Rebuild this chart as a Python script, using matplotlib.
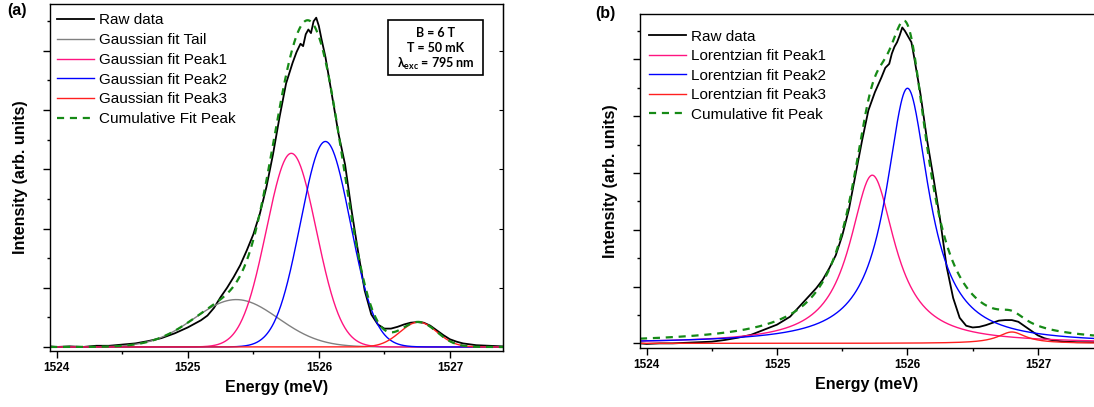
import numpy as np
import matplotlib.pyplot as plt
from matplotlib.ticker import MultipleLocator
from matplotlib.patches import Rectangle

plt.rcParams['font.family'] = ['Liberation Sans', 'DejaVu Sans']
plt.rcParams['mathtext.fontset'] = 'custom'
plt.rcParams['mathtext.bf'] = 'Lato:bold'
plt.rcParams['mathtext.rm'] = 'Lato'

### Raw spectrum (a) ###
raw_a_e = [1523.95, 1524.0, 1524.1, 1524.2, 1524.3, 1524.4, 1524.5, 1524.6, 1524.7, 1524.8,
           1524.9, 1525.0, 1525.05, 1525.1, 1525.15, 1525.2, 1525.25, 1525.3, 1525.35, 1525.4,
           1525.45, 1525.5, 1525.55, 1525.6, 1525.65, 1525.7, 1525.75, 1525.8, 1525.83, 1525.86,
           1525.88, 1525.9, 1525.92, 1525.94, 1525.96, 1525.98, 1526.0, 1526.02, 1526.05, 1526.1,
           1526.15, 1526.2, 1526.25, 1526.3, 1526.35, 1526.4, 1526.45, 1526.5, 1526.55, 1526.6,
           1526.65, 1526.7, 1526.75, 1526.8, 1526.85, 1526.9, 1526.95, 1527.0, 1527.05, 1527.1,
           1527.2, 1527.3, 1527.4]
raw_a_i = [0.01, 0.0, 0.01, 0.0, 0.02, 0.02, 0.04, 0.06, 0.10, 0.15,
           0.23, 0.33, 0.39, 0.45, 0.53, 0.66, 0.84, 1.00, 1.18, 1.38,
           1.63, 1.90, 2.25, 2.70, 3.25, 3.88, 4.45, 4.80, 4.98, 5.12,
           5.08, 5.28, 5.36, 5.30, 5.50, 5.56, 5.42, 5.20, 4.90, 4.25,
           3.60, 3.08, 2.30, 1.60, 0.95, 0.55, 0.38, 0.31, 0.31, 0.34,
           0.38, 0.41, 0.42, 0.41, 0.36, 0.28, 0.20, 0.13, 0.09, 0.06,
           0.03, 0.02, 0.01]

### Raw spectrum (b) ###
raw_b_e = [1523.95, 1524.0, 1524.1, 1524.2, 1524.3, 1524.4, 1524.5, 1524.6, 1524.7, 1524.8,
           1524.9, 1525.0, 1525.1, 1525.2, 1525.3, 1525.35, 1525.4, 1525.45, 1525.5, 1525.55,
           1525.6, 1525.65, 1525.7, 1525.75, 1525.8, 1525.83, 1525.86, 1525.88, 1525.9, 1525.92,
           1525.94, 1525.96, 1525.98, 1526.0, 1526.03, 1526.05, 1526.1, 1526.15, 1526.2, 1526.25,
           1526.3, 1526.35, 1526.4, 1526.45, 1526.5, 1526.55, 1526.6, 1526.65, 1526.7, 1526.75,
           1526.8, 1526.85, 1526.9, 1526.95, 1527.0, 1527.05, 1527.1, 1527.2, 1527.3, 1527.43]
raw_b_i = [0.0, -0.01, 0.0, 0.0, 0.01, 0.02, 0.03, 0.06, 0.10, 0.15,
           0.24, 0.33, 0.47, 0.72, 0.97, 1.12, 1.32, 1.55, 1.90, 2.35,
           2.95, 3.55, 4.10, 4.42, 4.68, 4.85, 4.92, 5.10, 5.22, 5.30,
           5.42, 5.56, 5.50, 5.42, 5.30, 5.05, 4.38, 3.58, 2.90, 2.18,
           1.35, 0.80, 0.45, 0.31, 0.28, 0.29, 0.32, 0.36, 0.40, 0.41,
           0.41, 0.38, 0.30, 0.22, 0.14, 0.09, 0.06, 0.03, 0.02, 0.02]

# Gaussian fit parameters (a): center, sigma, amplitude
gauss_names = ["Gaussian fit Tail", "Gaussian fit Peak1", "Gaussian fit Peak2", "Gaussian fit Peak3"]
gauss_center = [1525.37, 1525.79, 1526.05, 1526.76]
gauss_sigma = [0.32, 0.19, 0.19, 0.14]
gauss_amp = [0.80, 3.27, 3.47, 0.42]
gauss_color = ["#808080", "#ff1480", "#0000ff", "#ff2020"]

# Lorentzian fit parameters (b): center, half width, amplitude
lor_names = ["Lorentzian fit Peak1", "Lorentzian fit Peak2", "Lorentzian fit Peak3"]
lor_center = [1525.73, 1526.00, 1526.80]
lor_gamma = [0.21, 0.20, 0.13]
lor_amp = [2.96, 4.49, 0.20]
lor_color = ["#ff1480", "#0000ff", "#ff2020"]

green = "#168a16"

fig = plt.figure(figsize=(10.94, 4.07), dpi=100)
ax_a = fig.add_axes([0.0457, 0.1376, 0.4141, 0.8524])
ax_b = fig.add_axes([0.585, 0.1442, 0.415, 0.8218])


def style_axis(ax):
    ax.xaxis.set_major_locator(MultipleLocator(1))
    ax.xaxis.set_minor_locator(MultipleLocator(0.5))
    ax.yaxis.set_major_locator(MultipleLocator(1))
    ax.yaxis.set_minor_locator(MultipleLocator(0.5))
    ax.tick_params(axis='both', which='both', direction='out', width=1)
    ax.tick_params(axis='both', which='major', length=5)
    ax.tick_params(axis='both', which='minor', length=2.5)
    ax.tick_params(axis='y', labelleft=False)
    ax.tick_params(axis='x', labelsize=8.5, pad=3)
    for lab in ax.get_xticklabels():
        lab.set_fontweight('bold')
    for sp in ax.spines.values():
        sp.set_linewidth(1.0)
    ax.set_xlabel("Energy (meV)", fontsize=11.5, fontweight='bold', labelpad=4)
    ax.set_ylabel("Intensity (arb. units)", fontsize=11.5, fontweight='bold', labelpad=10)


### Panel (a) ###
xa = np.linspace(1523.95, 1527.405, 800)
ax_a.plot(raw_a_e, raw_a_i, color='black', lw=1.3, label="Raw data")
total = np.zeros_like(xa)
for name, c, s, a, col in zip(gauss_names, gauss_center, gauss_sigma, gauss_amp, gauss_color):
    g = a * np.exp(-(xa - c) ** 2 / (2 * s ** 2))
    total += g
    ax_a.plot(xa, g, color=col, lw=1.0, label=name)
ax_a.plot(xa, total, color=green, lw=1.6, ls=(0, (3.2, 2.6)), label="Cumulative Fit Peak")
ax_a.set_xlim(1523.949, 1527.405)
ax_a.set_ylim(-0.068, 5.79)
style_axis(ax_a)
sec = ax_a.secondary_yaxis('right')
sec.yaxis.set_major_locator(MultipleLocator(1))
sec.tick_params(direction='in', length=3, labelright=False)
sec.yaxis.set_minor_locator(MultipleLocator(0.5))
sec.tick_params(which='minor', length=0)
ax_a.legend(loc='upper left', bbox_to_anchor=(-0.005, 1.0), frameon=False, fontsize=11,
            handlelength=2.4, handletextpad=0.35, labelspacing=0.38, borderaxespad=0.2)

ax_a.add_patch(Rectangle((0.746, 0.795), 0.21, 0.159, transform=ax_a.transAxes,
                         fill=False, ec='black', lw=1.2))
ax_a.text(0.851, 0.918, "B = 6 T", transform=ax_a.transAxes, ha='center', va='center',
          fontsize=9, fontweight='bold', family=['Lato', 'DejaVu Sans'])
ax_a.text(0.851, 0.872, "T = 50 mK", transform=ax_a.transAxes, ha='center', va='center',
          fontsize=9, fontweight='bold', family=['Lato', 'DejaVu Sans'])
ax_a.text(0.851, 0.826, r"$\mathbf{\lambda}_{\mathbf{exc}}$ = 795 nm", transform=ax_a.transAxes,
          ha='center', va='center', fontsize=9, fontweight='bold', family=['Lato', 'DejaVu Sans'])

### Panel (b) ###
xb = np.linspace(1523.949, 1527.43, 800)
ax_b.plot(raw_b_e, raw_b_i, color='black', lw=1.3, label="Raw data")
total_b = np.zeros_like(xb)
for name, c, g_, a, col in zip(lor_names, lor_center, lor_gamma, lor_amp, lor_color):
    l = a / (1 + ((xb - c) / g_) ** 2)
    total_b += l
    ax_b.plot(xb, l, color=col, lw=1.0, label=name)
ax_b.plot(xb, total_b, color=green, lw=1.6, ls=(0, (3.2, 2.6)), label="Cumulative fit Peak")
ax_b.set_xlim(1523.949, 1527.43)
ax_b.set_ylim(-0.087, 5.80)
style_axis(ax_b)
ax_b.spines['right'].set_visible(False)
ax_b.legend(loc='upper left', bbox_to_anchor=(0.0, 0.98), frameon=False, fontsize=11,
            handlelength=2.4, handletextpad=0.35, labelspacing=0.36, borderaxespad=0.2)

fig.text(0.0064, 0.992, "(a)", fontsize=11.5, fontweight='bold', va='top', ha='left')
fig.text(0.544, 0.985, "(b)", fontsize=11.5, fontweight='bold', va='top', ha='left')

fig.savefig("out.png", dpi=100)
